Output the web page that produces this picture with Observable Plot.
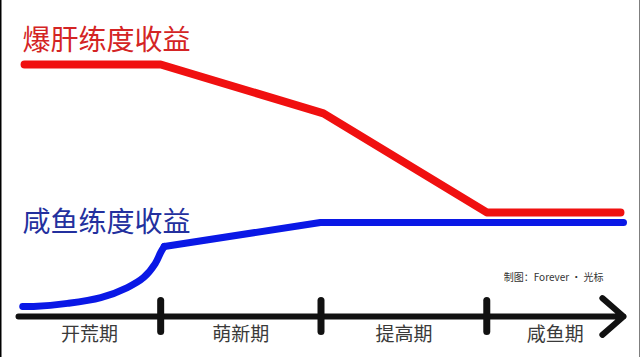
<!DOCTYPE html>
<html>
<head>
<meta charset="utf-8">
<script src="https://cdn.jsdelivr.net/npm/d3@7"></script>
<script src="https://cdn.jsdelivr.net/npm/@observablehq/plot@0.6"></script>
<style>
  html, body { margin: 0; padding: 0; background: #fff; overflow: hidden; }
  #chart svg { display: block; }
</style>
</head>
<body>
<div id="chart"></div>
<script>
// ---- data ----
const phases = ["开荒期", "萌新期", "提高期", "咸鱼期"];
const phaseBounds = [0, 23.5, 50, 77.4, 100];

const grindX = [1, 23.5, 50.4, 77.4, 99.5];
const grindY = [100, 100, 80.6, 41.3, 41.3];

const casualCurveX = [0.7, 2.5, 8.1, 13.6, 18.0, 20.7, 22.6, 23.5, 24.1];
const casualCurveY = [4.0, 4.0, 5.2, 7.5, 11.5, 15.5, 21.0, 25.4, 27.8];
const casualLineX = [24.1, 49.9, 100];
const casualLineY = [27.8, 37.3, 37.3];

const titles = ["爆肝练度收益", "咸鱼练度收益"];
const titleY = [109.5, 37.1];
const caption = "制图：Forever · 光标";

// ---- tables ----
const grind = grindX.map((x, i) => ({x, y: grindY[i]}));
const casualCurve = casualCurveX.map((x, i) => ({x, y: casualCurveY[i]}));
const casualLine = casualLineX.map((x, i) => ({x, y: casualLineY[i]}));
const phaseTable = phases.map((p, i) => ({p, mid: (phaseBounds[i] + phaseBounds[i + 1]) / 2}));
const titleTable = titles.map((t, i) => ({t, y: titleY[i]}));

const font = "'Noto Sans CJK SC', 'Noto Sans', sans-serif";

const chart = Plot.plot({
  width: 640,
  height: 357,
  margin: 0,
  style: {background: "#fff", fontFamily: font},
  x: {domain: [0, 100], range: [18, 623], axis: null},
  y: {domain: [0, 100], range: [316, 64], axis: null},
  marks: [
    Plot.frame({anchor: "left", stroke: "#000", strokeWidth: 2}),
    Plot.frame({anchor: "right", stroke: "#000", strokeWidth: 2}),
    // axis arrow
    Plot.arrow([0], {x1: 0, x2: 100, y1: 0, y2: 0, stroke: "#111", strokeWidth: 6,
      headLength: 7, headAngle: 82, strokeLinecap: "round", strokeLinejoin: "round"}),
    Plot.ruleX(phaseBounds.slice(1, 4), {y1: -6.2, y2: 6.2, stroke: "#111", strokeWidth: 7, strokeLinecap: "round"}),
    Plot.text(phaseTable, {x: "mid", y: -7.4, text: "p", fontSize: 19, fill: "#3a3a3a", fontFamily: font}),
    // lines
    Plot.line(grind, {x: "x", y: "y", stroke: "#f01010", strokeWidth: 8, strokeLinecap: "round", strokeLinejoin: "round"}),
    Plot.line(casualCurve, {x: "x", y: "y", stroke: "#0a18e6", strokeWidth: 7, curve: "catmull-rom", strokeLinecap: "round", strokeLinejoin: "round"}),
    Plot.line(casualLine, {x: "x", y: "y", stroke: "#0a18e6", strokeWidth: 7, strokeLinecap: "round", strokeLinejoin: "round"}),
    // titles
    Plot.text(titleTable, {x: 0.66, y: "y", text: "t", textAnchor: "start", fontSize: 28,
      fill: (d, i) => i === 0 ? "#d42424" : "#23309e", fontFamily: font}),
    Plot.text([caption], {x: 80.2, y: 15.5, text: d => d, textAnchor: "start", fontSize: 10, fill: "#333", fontFamily: font})
  ]
});
document.getElementById("chart").appendChild(chart);
</script>
</body>
</html>
